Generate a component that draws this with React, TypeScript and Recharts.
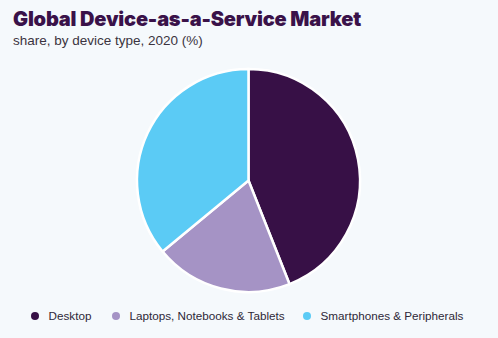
import { PieChart, Pie, Cell } from "recharts"

// device type shares, 2020 (%)
const categories = ["Desktop", "Laptops, Notebooks & Tablets", "Smartphones & Peripherals"]
const shares = [44, 20, 36]
const colors = ["#371046", "#a593c5", "#5bcbf5"]

const data = categories.map((name, i) => ({ name, value: shares[i] }))

const legendX = [31, 112, 303]

export default function App() {
  return (
    <div
      style={{
        position: "absolute",
        left: 0,
        top: 0,
        width: 498,
        height: 338,
        background: "#f5f9fc",
        fontFamily: "'Liberation Sans', Arial, sans-serif",
        overflow: "hidden",
      }}
    >
      <div
        style={{
          position: "absolute",
          left: 13,
          top: 7,
          fontSize: 20,
          fontWeight: 900,
          fontFamily: "Inter, 'Liberation Sans', sans-serif",
          letterSpacing: -0.2,
          color: "#3a1249",
        }}
      >
        Global Device-as-a-Service Market
      </div>
      <div style={{ position: "absolute", left: 13, top: 33, fontSize: 13.5, color: "#3b3440" }}>
        share, by device type, 2020 (%)
      </div>
      <PieChart width={498} height={338} margin={{ top: 0, right: 0, bottom: 0, left: 0 }}>
        <Pie
          data={data}
          dataKey="value"
          nameKey="name"
          cx={248.5}
          cy={180.5}
          outerRadius={111.5}
          startAngle={90}
          endAngle={-270}
          stroke="#ffffff"
          strokeWidth={2.5}
          isAnimationActive={false}
        >
          {data.map((d, i) => (
            <Cell key={d.name} fill={colors[i]} />
          ))}
        </Pie>
      </PieChart>
      {data.map((d, i) => (
        <div
          key={d.name}
          style={{
            position: "absolute",
            left: legendX[i],
            top: 309,
            display: "flex",
            alignItems: "center",
            fontSize: 11.7,
            color: "#2e2838",
            whiteSpace: "nowrap",
          }}
        >
          <span
            style={{
              display: "inline-block",
              width: 8,
              height: 8,
              borderRadius: 4,
              background: colors[i],
              marginRight: 9.5,
            }}
          />
          {d.name}
        </div>
      ))}
    </div>
  )
}
